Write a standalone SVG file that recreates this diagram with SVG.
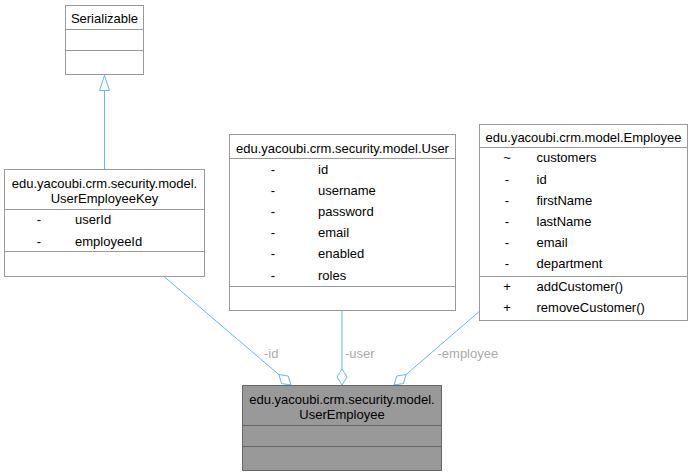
<svg xmlns="http://www.w3.org/2000/svg" width="693" height="476" viewBox="0 0 693 476">
<style>
  .box { fill: #ffffff; stroke: #999999; stroke-width: 1; }
  .cur { fill: #999999; stroke: #666666; stroke-width: 1; }
  .div { stroke: #999999; stroke-width: 1; }
  .cdiv { stroke: #666666; stroke-width: 1; }
  text { font-family: "Liberation Sans", Arial, sans-serif; font-size: 13px; fill: #000000; }
  .c { text-anchor: middle; }
  .lbl { fill: #AAAAAA; }
  .edge { fill: none; stroke: #63B8FF; stroke-width: 1; }
</style>
<defs>
  <marker id="diamond" viewBox="0 0 17 11" refX="16.5" refY="5.5" markerWidth="17" markerHeight="11" markerUnits="userSpaceOnUse" orient="auto">
    <path d="M0.5,5.5 L8.5,0.5 L16.5,5.5 L8.5,10.5 Z" fill="#ffffff" stroke="#63B8FF" stroke-width="1"/>
  </marker>
  <marker id="tri" viewBox="0 0 16 12" refX="15.5" refY="6" markerWidth="16" markerHeight="12" markerUnits="userSpaceOnUse" orient="auto">
    <path d="M0.5,1 L15.5,6 L0.5,11 Z" fill="#ffffff" stroke="#63B8FF" stroke-width="1"/>
  </marker>
</defs>

<g id="connectors">
  <path class="edge" d="M104.5,169 L104.5,75.5" marker-end="url(#tri)"/>
  <path class="edge" d="M164,276.5 L291,385" marker-end="url(#diamond)"/>
  <text class="lbl" x="264" y="357.5">-id</text>
  <path class="edge" d="M342,310.5 L342,385" marker-end="url(#diamond)"/>
  <text class="lbl" x="345" y="357.5">-user</text>
  <path class="edge" d="M479,311.7 L394,385" marker-end="url(#diamond)"/>
  <text class="lbl" x="437.5" y="357.5">-employee</text>
</g>

<g id="Serializable">
  <rect class="box" x="65.5" y="5.5" width="78" height="69"/>
  <line class="div" x1="65.5" y1="29.5" x2="143.5" y2="29.5"/>
  <line class="div" x1="65.5" y1="50.5" x2="143.5" y2="50.5"/>
  <text class="c" x="104.5" y="23.3">Serializable</text>
</g>

<g id="UserEmployeeKey">
  <rect class="box" x="4.5" y="169.5" width="200" height="107"/>
  <line class="div" x1="4.5" y1="209.5" x2="204.5" y2="209.5"/>
  <line class="div" x1="4.5" y1="251.5" x2="204.5" y2="251.5"/>
  <text class="c" x="104.5" y="187.5">edu.yacoubi.crm.security.model.</text>
  <text class="c" x="104.5" y="202.5">UserEmployeeKey</text>
  <text class="c" x="39" y="224.3">-</text>
  <text x="75" y="224.3">userId</text>
  <text class="c" x="39" y="245.5">-</text>
  <text x="75" y="245.5">employeeId</text>
</g>

<g id="User">
  <rect class="box" x="229.5" y="134.5" width="226" height="176"/>
  <line class="div" x1="229.5" y1="158.5" x2="455.5" y2="158.5"/>
  <line class="div" x1="229.5" y1="286.5" x2="455.5" y2="286.5"/>
  <text class="c" x="342.5" y="152.5">edu.yacoubi.crm.security.model.User</text>
  <text class="c" x="273" y="173.5">-</text><text x="318" y="173.5">id</text>
  <text class="c" x="273" y="194.7">-</text><text x="318" y="194.7">username</text>
  <text class="c" x="273" y="215.9">-</text><text x="318" y="215.9">password</text>
  <text class="c" x="273" y="237.1">-</text><text x="318" y="237.1">email</text>
  <text class="c" x="273" y="258.3">-</text><text x="318" y="258.3">enabled</text>
  <text class="c" x="273" y="279.5">-</text><text x="318" y="279.5">roles</text>
</g>

<g id="Employee">
  <rect class="box" x="479.5" y="124.5" width="208" height="196"/>
  <line class="div" x1="479.5" y1="147.5" x2="687.5" y2="147.5"/>
  <line class="div" x1="479.5" y1="276.5" x2="687.5" y2="276.5"/>
  <text class="c" x="583.5" y="142">edu.yacoubi.crm.model.Employee</text>
  <text class="c" x="507" y="162.3">~</text><text x="536.5" y="162.3">customers</text>
  <text class="c" x="507" y="183.5">-</text><text x="536.5" y="183.5">id</text>
  <text class="c" x="507" y="204.7">-</text><text x="536.5" y="204.7">firstName</text>
  <text class="c" x="507" y="225.9">-</text><text x="536.5" y="225.9">lastName</text>
  <text class="c" x="507" y="247.1">-</text><text x="536.5" y="247.1">email</text>
  <text class="c" x="507" y="268.3">-</text><text x="536.5" y="268.3">department</text>
  <text class="c" x="507" y="290.7">+</text><text x="536.5" y="290.7">addCustomer()</text>
  <text class="c" x="507" y="311.9">+</text><text x="536.5" y="311.9">removeCustomer()</text>
</g>

<g id="UserEmployee">
  <rect class="cur" x="242.5" y="385.5" width="199" height="85"/>
  <line class="cdiv" x1="242.5" y1="425.5" x2="441.5" y2="425.5"/>
  <line class="cdiv" x1="242.5" y1="446.5" x2="441.5" y2="446.5"/>
  <text class="c" x="342" y="403.5">edu.yacoubi.crm.security.model.</text>
  <text class="c" x="342" y="418.5">UserEmployee</text>
</g>
</svg>
